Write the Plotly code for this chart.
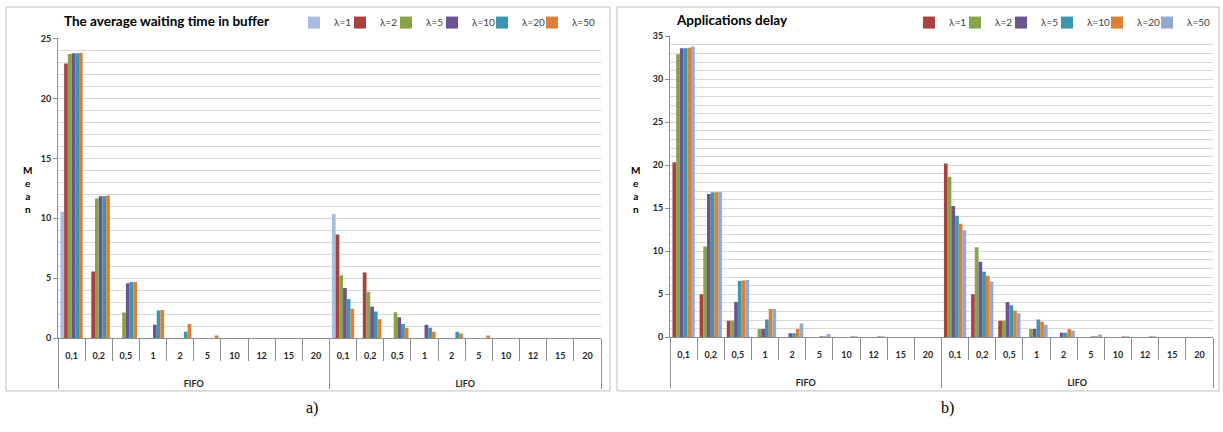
import plotly.graph_objects as go

# Category labels: buffer discipline (outer) and load value (inner)
disciplines = ["FIFO", "LIFO"]
loads = ["0,1", "0,2", "0,5", "1", "2", "5", "10", "12", "15", "20"]
lambdas = ["λ=1", "λ=2", "λ=5", "λ=10", "λ=20", "λ=50"]

# a) average waiting time in buffer (FIFO values followed by LIFO values)
wait_l1 = [10.55, 0, 0, 0, 0, 0, 0, 0, 0, 0,
           10.36, 0, 0, 0, 0, 0, 0, 0, 0, 0]
wait_l2 = [22.9, 5.56, 0, 0, 0, 0, 0, 0, 0, 0,
           8.65, 5.48, 0, 0, 0, 0, 0, 0, 0, 0]
wait_l5 = [23.7, 11.66, 2.15, 0, 0, 0, 0, 0, 0, 0,
           5.26, 3.88, 2.17, 0, 0, 0, 0, 0, 0, 0]
wait_l10 = [23.75, 11.85, 4.58, 1.14, 0, 0, 0, 0, 0, 0,
            4.2, 2.63, 1.76, 1.14, 0, 0, 0, 0, 0, 0]
wait_l20 = [23.75, 11.85, 4.69, 2.31, 0.54, 0, 0, 0, 0, 0,
            3.28, 2.23, 1.19, 0.87, 0.54, 0, 0, 0, 0, 0]
wait_l50 = [23.8, 11.9, 4.69, 2.36, 1.19, 0.24, 0, 0, 0, 0,
            2.47, 1.58, 0.87, 0.54, 0.41, 0.24, 0, 0, 0, 0]

# b) applications delay (FIFO values followed by LIFO values)
delay_l1 = [20.36, 5.02, 1.92, 0, 0, 0, 0, 0, 0, 0,
            20.2, 5.01, 1.92, 0, 0, 0, 0, 0, 0, 0]
delay_l2 = [32.9, 10.56, 1.92, 0.98, 0, 0, 0, 0, 0, 0,
            18.67, 10.48, 1.92, 0.98, 0, 0, 0, 0, 0, 0]
delay_l5 = [33.6, 16.67, 4.11, 0.98, 0.49, 0, 0, 0, 0, 0,
            15.27, 8.79, 4.11, 0.98, 0.53, 0, 0, 0, 0, 0]
delay_l10 = [33.6, 16.86, 6.56, 2.07, 0.49, 0.1, 0, 0, 0, 0,
             14.14, 7.62, 3.73, 2.07, 0.53, 0.11, 0, 0, 0, 0]
delay_l20 = [33.65, 16.86, 6.6, 3.28, 0.98, 0.1, 0.03, 0.03, 0, 0,
             13.2, 7.17, 3.13, 1.81, 0.98, 0.11, 0.03, 0.03, 0, 0]
delay_l50 = [33.8, 16.9, 6.67, 3.28, 1.62, 0.38, 0.05, 0.03, 0, 0,
             12.44, 6.49, 2.79, 1.47, 0.79, 0.34, 0.04, 0.03, 0, 0]

W, H = 1223, 432
FONT = "Lato"
RED, GREEN, PURPLE = "#A8423F", "#87A44A", "#6B548F"
TEAL, ORANGE = "#3D96AE", "#DA8137"
wait_colors = ["#A7BCDE", RED, GREEN, PURPLE, TEAL, ORANGE]
delay_colors = [RED, GREEN, PURPLE, TEAL, ORANGE, "#94A7CD"]
# compact legend entries: width reserved after each swatch
entry_widths = [1, 1, 1, 5, 5, 24]

# outer group labels sit two lines lower than the load labels
outer = ["<br><br>" + d for d in disciplines]
x_multi = [[d for d in outer for _ in loads], loads * len(disciplines)]

fig = go.Figure()
wait_series = [wait_l1, wait_l2, wait_l5, wait_l10, wait_l20, wait_l50]
delay_series = [delay_l1, delay_l2, delay_l5, delay_l10, delay_l20, delay_l50]
for name, vals, col, lw in zip(lambdas, wait_series, wait_colors, entry_widths):
    fig.add_trace(go.Bar(x=x_multi, y=vals, name=name, marker_color=col,
                         marker_line_width=0, xaxis="x", yaxis="y",
                         legend="legend", legendwidth=lw))
for name, vals, col, lw in zip(lambdas, delay_series, delay_colors, entry_widths):
    fig.add_trace(go.Bar(x=x_multi, y=vals, name=name, marker_color=col,
                         marker_line_width=0, xaxis="x2", yaxis="y2",
                         legend="legend2", legendwidth=lw))

AXIS = "#8c8c8c"
GRID = "#d9d9d9"
TICKFONT = dict(family=FONT, size=9, color="#262626", weight="bold")


def xaxis_style(left, right, anchor):
    return dict(type="multicategory", domain=[left / W, right / W], anchor=anchor,
                showline=True, linecolor=AXIS, linewidth=1, ticks="outside",
                tickson="boundaries", ticklen=22, tickcolor=AXIS,
                ticklabelstandoff=9,
                showdividers=True, dividercolor=AXIS, dividerwidth=1,
                tickfont=TICKFONT, showgrid=False, fixedrange=True)


def yaxis_style(bottom, top, ymax, anchor):
    return dict(domain=[1 - bottom / H, 1 - top / H], anchor=anchor,
                range=[0, ymax], dtick=5, showgrid=True, gridcolor=GRID,
                minor=dict(dtick=1, showgrid=True, gridcolor=GRID),
                showline=True, linecolor=AXIS, ticks="outside", ticklen=4,
                tickcolor=AXIS, tickfont=TICKFONT, zeroline=False, fixedrange=True)


legend_style = dict(orientation="h", yanchor="middle", xanchor="right",
                    font=dict(family=FONT, size=10, color="#404040"),
                    bgcolor="rgba(0,0,0,0)", itemwidth=30,
                    traceorder="normal")

fig.update_layout(
    width=W, height=H, margin=dict(l=0, r=0, t=0, b=0),
    paper_bgcolor="white", plot_bgcolor="white",
    barmode="group", bargap=0.18, bargroupgap=0,
    xaxis=xaxis_style(58, 601, "y"),
    yaxis=yaxis_style(341, 33.2, 25, "x"),
    xaxis2=xaxis_style(670, 1213, "y2"),
    yaxis2=yaxis_style(340, 31, 35, "x2"),
    legend=dict(legend_style, x=601 / W, y=1 - 17 / H),
    legend2=dict(legend_style, x=1216 / W, y=1 - 17 / H),
    font=dict(family=FONT),
)

# Panel frames
for x0, x1 in [(6, 610), (617, 1219)]:
    fig.add_shape(type="rect", xref="paper", yref="paper",
                  x0=x0 / W, x1=x1 / W, y0=1 - 395 / H, y1=1 - 1 / H,
                  line=dict(color="#bfbfbf", width=1), layer="below")

# Panel titles
titles = [("The average waiting time in buffer", 62, 15),
          ("Applications delay", 674, 14)]
for text, px, py in titles:
    fig.add_annotation(text=text, xref="paper", yref="paper", x=px / W, y=1 - py / H,
                       xanchor="left", yanchor="middle", showarrow=False,
                       font=dict(family=FONT, size=13.5, color="black", weight="bold"))

# Stacked y-axis captions
for px in (27, 635):
    fig.add_annotation(text="M<br>e<br>a<br>n", xref="paper", yref="paper",
                       x=px / W, y=1 - 188 / H, xanchor="center", yanchor="middle",
                       showarrow=False,
                       font=dict(family=FONT, size=10, color="black", weight="bold"))

# Sub-figure labels
for text, px in (("a)", 312), ("b)", 947)):
    fig.add_annotation(text=text, xref="paper", yref="paper", x=px / W, y=1 - 413 / H,
                       xanchor="center", yanchor="middle", showarrow=False,
                       font=dict(family="Liberation Serif", size=16, color="black"))

fig.write_html("out.html")
